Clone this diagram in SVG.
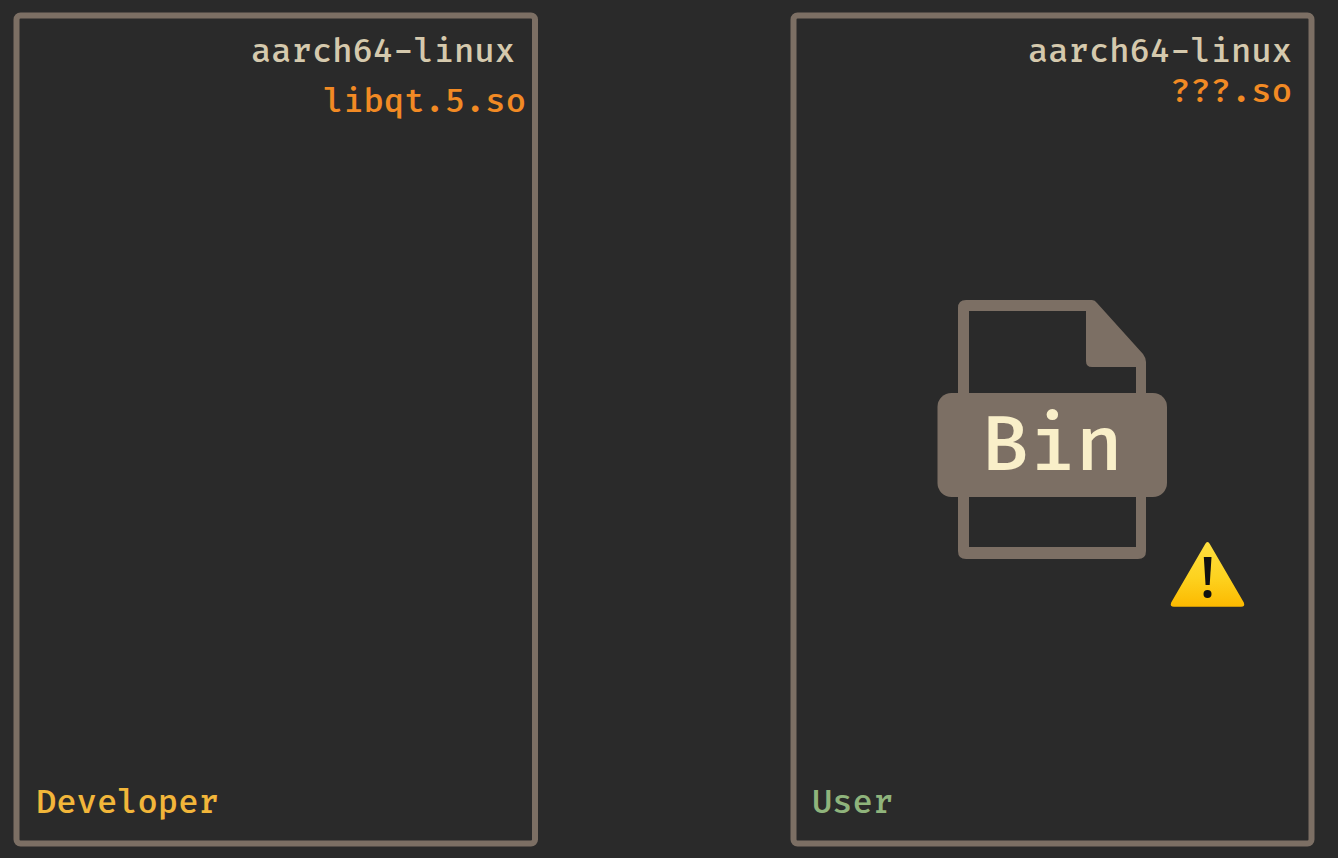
<svg xmlns="http://www.w3.org/2000/svg" width="1338" height="858" viewBox="0 0 1338 858">
<style>
.box{fill:none;stroke:#7c6f64;stroke-width:6}
.t{font-family:"Fira Code","DejaVu Sans Mono","Liberation Mono",monospace;font-size:33px;font-weight:500}
.r{text-anchor:end}
.a{fill:#d5c9ad}
.o{fill:#f28a24}
</style>
<defs>
<linearGradient id="warn" x1="0" y1="0" x2="0" y2="1">
<stop offset="0" stop-color="#ffe040"/>
<stop offset="0.55" stop-color="#fdd21f"/>
<stop offset="1" stop-color="#fcb900"/>
</linearGradient>
</defs>
<rect width="1338" height="858" fill="#2a2a2a"/>
<g id="developer">
<rect class="box" x="16.500" y="15.500" width="518.500" height="828" rx="4"/>
<text class="t r a" x="515" y="62">aarch64-linux</text>
<text class="t r o" x="526" y="112">libqt.5.so</text>
<text class="t" x="36" y="813" fill="#f2b63a">Developer</text>
</g>
<g id="user">
<rect class="box" x="793.500" y="15.500" width="518" height="828" rx="4"/>
<text class="t r a" x="1292" y="62">aarch64-linux</text>
<text class="t r o" x="1292" y="102">???.so</text>
<text class="t" x="812" y="813" fill="#8fb47c">User</text>
</g>
<g id="bin">
<path d="M958 393V308q0-8 8-8H1092Q1095 300 1097 303L1143 354Q1146 358 1146 362V393H1136V367H1092q-6 0-6-6V311H969V393ZM958 497V551q0 8 8 8H1138q8 0 8-8V497H1136V547H969V497Z" fill="#7c6f64"/>
<rect x="937.500" y="393" width="229.500" height="104" rx="14" fill="#7c6f64"/>
<text x="1052.500" y="470" text-anchor="middle" font-family="'Fira Code','DejaVu Sans Mono',monospace" font-size="76" font-weight="500" fill="#f9efc9">Bin</text>
</g>
<g id="warning">
<path d="M1207.500 542Q1208.800 542 1209.800 544L1243.800 602.500Q1245.500 606.800 1241 606.800H1174Q1169.500 606.800 1171.200 602.500L1205.200 544Q1206.200 542 1207.500 542Z" fill="url(#warn)"/>
<path d="M1203.800 557H1211.500L1209.700 585H1205.600Z" fill="#111"/>
<circle cx="1207.500" cy="594" r="4" fill="#111"/>
</g>
</svg>
